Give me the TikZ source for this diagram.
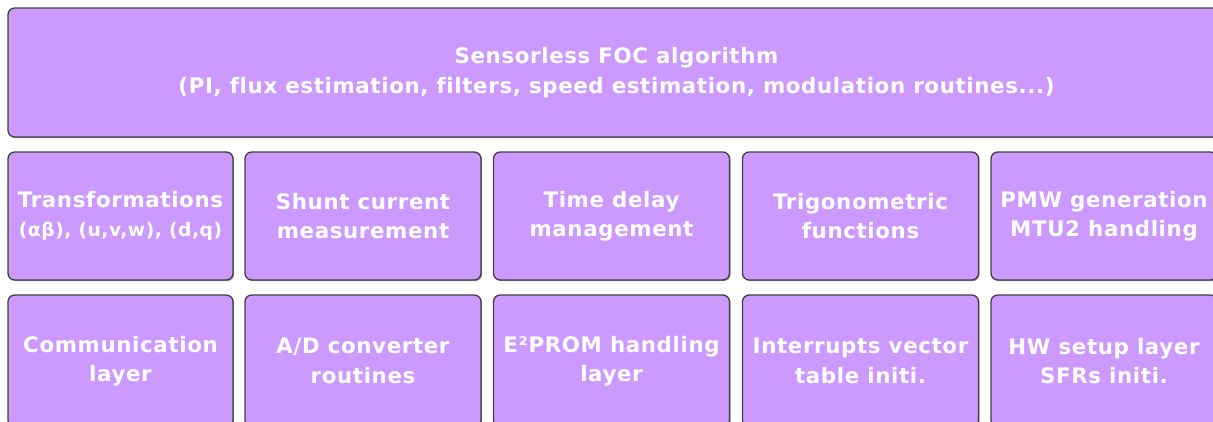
\documentclass[tikz,border=0pt]{standalone}
\usepackage{fontspec}
\setmainfont{DejaVu Sans}[LetterSpace=3, Ligatures=NoCommon]
\usepackage{tikz}
\usetikzlibrary{shadows}
\definecolor{lilac}{RGB}{204,153,255}
\newcommand{\pxu}{0.75pt}
\tikzset{
  block/.style={draw=black!75, line width=1pt, fill=lilac, rounded corners=5pt,
    drop shadow={shadow xshift=0.8pt, shadow yshift=-0.8pt, fill=black!40, opacity=1},
    text=white, font=\bfseries\fontsize{16}{22}\selectfont, align=center, inner sep=0pt,
    minimum height={128*\pxu}},
  cell/.style={block, minimum width={236*\pxu}},
}

\begin{document}
\begin{tikzpicture}[x=\pxu, y=-\pxu]
                        \useasboundingbox (0,0) rectangle (1213,421);
                        \clip (0,0) rectangle (1213,421);
                        \node[block, minimum width={1217*\pxu}, minimum height={129*\pxu}] (foc) at (616.5,72.5)
                            {Sensorless FOC algorithm\\(PI, flux estimation, filters, speed estimation, modulation routines...)};
                        \node[cell, minimum width={225*\pxu}] (trans) at (120.5,216)
                            {Transformations\\{\fontsize{14}{22}\selectfont (αβ), (u,v,w), (d,q)}};
                        \node[cell] (shunt) at (363,216) {Shunt current\\measurement};
                        \node[cell] (delay) at (611.5,216) {Time delay\\management};
                        \node[cell] (trig) at (860.5,216) {Trigonometric\\functions};
                        \node[cell, minimum width={226*\pxu}] (pwm) at (1104,216) {PMW generation\\MTU2 handling};
                        \node[cell, minimum width={225*\pxu}, minimum height={132*\pxu}] (comm) at (120.5,361) {Communication\\layer};
                        \node[cell, minimum height={132*\pxu}] (adc) at (363,361) {A/D converter\\routines};
                        \node[cell, minimum height={132*\pxu}] (eeprom) at (611.5,361) {E²PROM handling\\layer};
                        \node[cell, minimum height={132*\pxu}] (irq) at (860.5,361) {Interrupts vector\\table initi.};
                        \node[cell, minimum width={226*\pxu}, minimum height={132*\pxu}] (hw) at (1104,361) {HW setup layer\\SFRs initi.};
                    \end{tikzpicture}
\end{document}
